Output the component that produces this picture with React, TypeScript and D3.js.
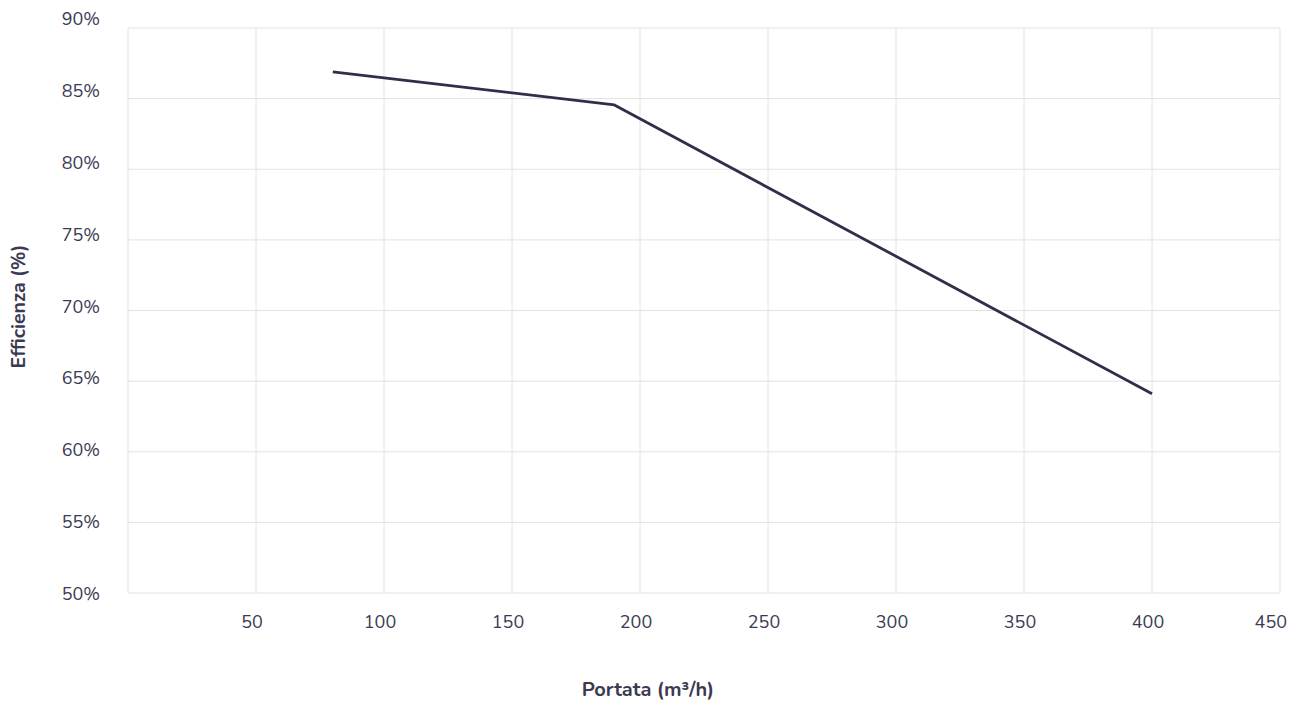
import React from "react";
import * as d3 from "d3";

const flowValues = [80, 190, 400];
const efficiencyValues = [86.9, 84.55, 64.1];
const xTicks = [50, 100, 150, 200, 250, 300, 350, 400, 450];
const yTicks = [50, 55, 60, 65, 70, 75, 80, 85, 90];
const xTitle = "Portata (m³/h)";
const yTitle = "Efficienza (%)";

const W = 1290;
const H = 701;
const FONT = "Nunito, Lato, 'Open Sans', sans-serif";
const TEXT = "#3b3a52";
const GRID = "#e2e2e4";
const LINE = "#312e4b";

export default function App() {
  const x = d3.scaleLinear().domain([0, 450]).range([128, 1280]);
  const y = d3.scaleLinear().domain([50, 90]).range([593, 28]);
  const yLabel = d3.scaleLinear().domain([50, 90]).range([594, 19]);
  const data = flowValues.map((f, i) => ({ f, e: efficiencyValues[i] }));
  const line = d3
    .line<{ f: number; e: number }>()
    .x((d) => x(d.f))
    .y((d) => y(d.e));

  return (
    <svg
      width={W}
      height={H}
      style={{ position: "absolute", left: 0, top: 0, background: "#fff" }}
      fontFamily={FONT}
    >
      {yTicks.map((t) => (
        <line key={"gy" + t} x1={128} x2={1280} y1={y(t)} y2={y(t)} stroke={GRID} strokeWidth={1} />
      ))}
      <line x1={x(0)} x2={x(0)} y1={28} y2={593} stroke={GRID} strokeWidth={1} />
      {xTicks.map((t) => (
        <line key={"gx" + t} x1={x(t)} x2={x(t)} y1={28} y2={593} stroke={GRID} strokeWidth={1} />
      ))}
      {yTicks.map((t) => (
        <text
          key={"ly" + t}
          x={100}
          y={yLabel(t)}
          textAnchor="end"
          dominantBaseline="central"
          fontSize={18}
          fill={TEXT}
        >
          {t}%
        </text>
      ))}
      {xTicks.map((t, i) => {
        const last = i === xTicks.length - 1;
        return (
          <text
            key={"lx" + t}
            x={last ? 1287 : x(t) - 4}
            y={622}
            textAnchor={last ? "end" : "middle"}
            dominantBaseline="central"
            fontSize={18}
            fill={TEXT}
          >
            {t}
          </text>
        );
      })}
      <path d={line(data) || ""} fill="none" stroke={LINE} strokeWidth={2.8} strokeLinejoin="round" />
      <text x={648} y={689} textAnchor="middle" dominantBaseline="central" fontSize={20} fontWeight="bold" fill={TEXT}>
        {xTitle}
      </text>
      <text
        transform={`translate(18,306.5) rotate(-90)`}
        textAnchor="middle"
        dominantBaseline="central"
        fontSize={19.5}
        fontWeight="bold"
        fill={TEXT}
      >
        {yTitle}
      </text>
    </svg>
  );
}
